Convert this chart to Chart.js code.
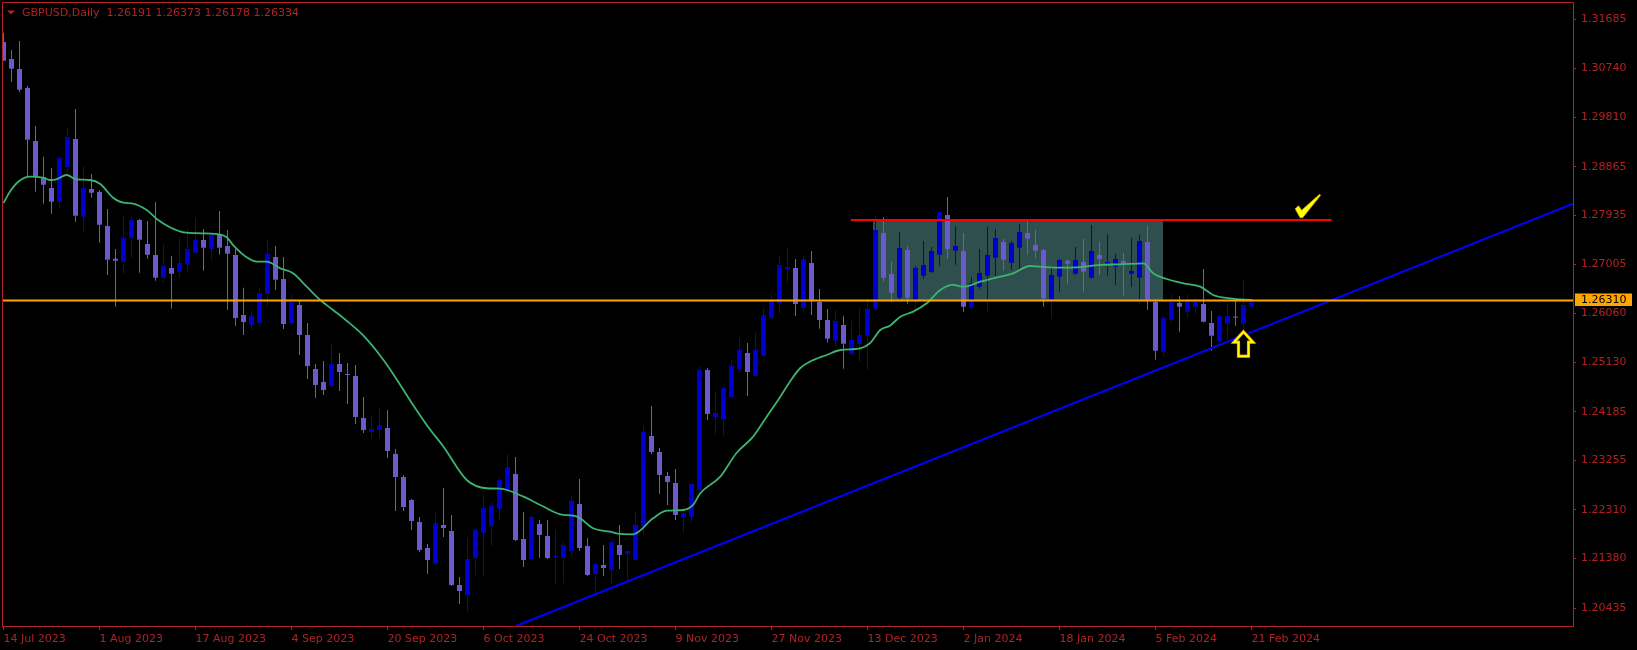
<!DOCTYPE html>
<html><head><meta charset="utf-8">
<script src="https://cdn.jsdelivr.net/npm/chart.js@4/dist/chart.umd.min.js"></script>
<style>html,body{margin:0;padding:0;background:#000;overflow:hidden}canvas{display:block}</style>
</head><body>
<canvas id="c" width="1637" height="650"></canvas>
<script>
// ---- data (bar index 0 = 14 Jul 2023, daily bars) ----
const opens = [1.31248,1.30923,1.30732,1.30369,1.29357,1.28669,1.28459,1.28198,1.28860,1.29395,
1.27911,1.28440,1.28383,1.27733,1.27109,1.27052,1.27510,1.27848,1.27390,1.27180,
1.26746,1.26931,1.26861,1.26994,1.27223,1.27466,1.27294,1.27581,1.27351,1.27180,
1.26034,1.25843,1.25886,1.26440,1.27141,1.26721,1.25881,1.26225,1.25652,1.25002,
1.24754,1.24677,1.25098,1.24907,1.24868,1.24066,1.23799,1.23837,1.23875,1.23379,
1.22939,1.22500,1.22080,1.21583,1.21278,1.22023,1.21908,1.20877,1.20686,1.21392,
1.21870,1.22003,1.22328,1.22691,1.22997,1.21755,1.21373,1.22042,1.21812,1.21411,
1.21392,1.21526,1.22424,1.21621,1.21087,1.21259,1.21163,1.21641,1.21469,1.21354,
1.22003,1.23722,1.23417,1.22958,1.22825,1.22175,1.22175,1.22691,1.24983,1.24085,
1.24047,1.24467,1.25002,1.25308,1.24868,1.25250,1.25976,1.26263,1.26912,1.26931,
1.26167,1.27027,1.26282,1.25938,1.25543,1.25843,1.25294,1.25485,1.25638,1.26154,
1.27600,1.26817,1.26364,1.27275,1.26288,1.26784,1.26855,1.27185,1.27944,1.27262,
1.27256,1.26173,1.26574,1.26784,1.27128,1.27428,1.27032,1.27319,1.27600,1.27370,
1.27275,1.26333,1.26765,1.27071,1.26822,1.27046,1.26746,1.27180,1.27013,1.26956,
1.27065,1.26822,1.26746,1.27428,1.26282,1.25333,1.25944,1.26263,1.26097,1.26192,
1.26244,1.25881,1.25537,1.25867,1.26001,1.25867,1.26191];
const highs = [1.31425,1.31095,1.31267,1.30413,1.29643,1.29057,1.28841,1.29057,1.29611,1.29968,
1.28879,1.28727,1.28421,1.28058,1.27294,1.27930,1.27905,1.27867,1.27829,1.28192,
1.27390,1.27160,1.27523,1.27676,1.27892,1.27676,1.27619,1.28020,1.27657,1.27294,
1.26555,1.26116,1.26555,1.27466,1.27351,1.27141,1.26435,1.26320,1.25881,1.25098,
1.25155,1.25499,1.25308,1.25117,1.25079,1.24467,1.24124,1.24257,1.24219,1.23474,
1.22978,1.22519,1.22175,1.21660,1.22252,1.22729,1.22214,1.21029,1.21774,1.21965,
1.22615,1.22462,1.22939,1.23379,1.23321,1.22271,1.22214,1.22118,1.22118,1.21927,
1.21717,1.22596,1.22901,1.21774,1.21297,1.21641,1.21717,1.22023,1.21530,1.22271,
1.23913,1.24295,1.23493,1.23035,1.23092,1.22385,1.22806,1.25059,1.25021,1.24563,
1.24658,1.25174,1.25594,1.25499,1.25709,1.26167,1.26454,1.27160,1.27332,1.27103,
1.27160,1.27256,1.26530,1.26148,1.26129,1.26020,1.25919,1.26167,1.26345,1.27944,
1.27905,1.27052,1.27625,1.27351,1.26969,1.27447,1.27332,1.28020,1.28287,1.27733,
1.27600,1.26765,1.27294,1.27714,1.27676,1.27485,1.27447,1.27772,1.27867,1.27657,
1.27294,1.26956,1.27097,1.27090,1.27332,1.27485,1.27753,1.27428,1.27581,1.27199,
1.27218,1.27504,1.27562,1.27733,1.26326,1.26020,1.26435,1.26396,1.26440,1.26364,
1.26912,1.26110,1.26039,1.26249,1.26307,1.26708,1.26373];
const lows = [1.30885,1.30490,1.30287,1.28675,1.28389,1.28159,1.27968,1.28083,1.28751,1.27816,
1.27625,1.28274,1.27414,1.26798,1.26192,1.26822,1.27128,1.26841,1.27109,1.26689,
1.26650,1.26154,1.26746,1.26861,1.27208,1.26880,1.27097,1.27185,1.26135,1.25823,
1.25652,1.25747,1.25823,1.26192,1.26517,1.25766,1.25843,1.25270,1.24811,1.24448,
1.24506,1.24658,1.24582,1.24334,1.23952,1.23780,1.23684,1.23684,1.23302,1.22290,
1.22290,1.21927,1.21507,1.21087,1.21259,1.21793,1.20857,1.20514,1.20361,1.21068,
1.21048,1.21621,1.22099,1.22653,1.21717,1.21220,1.21335,1.21392,1.21373,1.20896,
1.20915,1.21430,1.21526,1.21048,1.20724,1.21048,1.20896,1.21182,1.20972,1.21335,
1.21832,1.23379,1.22615,1.22405,1.22118,1.21870,1.22061,1.22672,1.24028,1.23742,
1.23722,1.24448,1.24926,1.24486,1.24849,1.25231,1.25938,1.26053,1.26645,1.26014,
1.26110,1.26034,1.25772,1.25504,1.25447,1.25008,1.25256,1.25142,1.24989,1.26116,
1.26670,1.26288,1.26307,1.26249,1.26116,1.26727,1.26836,1.26969,1.27103,1.26994,
1.26097,1.26135,1.26536,1.26097,1.26784,1.26880,1.26899,1.26906,1.27185,1.27122,
1.26192,1.25963,1.26479,1.26620,1.26807,1.26479,1.26731,1.26798,1.26784,1.26612,
1.26402,1.26574,1.26249,1.26135,1.25180,1.25256,1.25886,1.25714,1.25982,1.26058,
1.25890,1.25352,1.25493,1.25543,1.25829,1.25791,1.26178];
const closes = [1.30891,1.30738,1.30337,1.29382,1.28675,1.28522,1.28198,1.29032,1.29433,1.27930,
1.28459,1.28369,1.27758,1.27090,1.27071,1.27504,1.27848,1.27472,1.27185,1.26746,
1.26969,1.26822,1.27027,1.27294,1.27472,1.27319,1.27562,1.27319,1.27204,1.25976,
1.25900,1.26020,1.26448,1.27199,1.26708,1.25862,1.26282,1.25652,1.25059,1.24697,
1.24601,1.25098,1.24945,1.24888,1.24085,1.23837,1.23856,1.23933,1.23436,1.22939,
1.22366,1.22099,1.21545,1.21354,1.22061,1.21965,1.20877,1.20762,1.21373,1.21927,
1.22347,1.22385,1.22882,1.23130,1.21736,1.21354,1.22175,1.21832,1.21392,1.21430,
1.21641,1.22481,1.21583,1.21068,1.21278,1.21201,1.21698,1.21450,1.21526,1.22023,
1.23799,1.23417,1.22978,1.22844,1.22214,1.22252,1.22806,1.24983,1.24143,1.24162,
1.24639,1.25059,1.25365,1.24945,1.25365,1.26034,1.26301,1.26989,1.26950,1.26244,
1.27103,1.26301,1.25938,1.25581,1.25919,1.25485,1.25556,1.25652,1.26148,1.27657,
1.26746,1.26459,1.27313,1.26364,1.26931,1.26989,1.27256,1.28001,1.27294,1.27351,
1.26192,1.26645,1.26836,1.27180,1.27504,1.27090,1.27409,1.27619,1.27491,1.27262,
1.26352,1.26798,1.27084,1.27013,1.27084,1.26861,1.27256,1.27103,1.27046,1.27103,
1.26994,1.26874,1.27447,1.26326,1.25352,1.25976,1.26282,1.26192,1.26320,1.26282,
1.25906,1.25638,1.26014,1.26014,1.25982,1.26225,1.26334];

// moving average line, read at points along the curve (x = bar index)
const maIndex = [0,0.8,1.85,3.3,4.9,5.8,6.6,7.9,9.1,10.8,12.1,13.7,15,16,17.9,19.2,20.8,22.5,24.6,26.6,
27.9,28.7,30.4,31.7,32.9,34.6,36.2,37.9,39.6,41.2,42.7,44.9,47.5,49.6,51.2,53.2,55,57.9,60.4,62.1,
65,67.1,69.6,71.7,73.7,75.8,77.1,78.7,81.2,82.9,85,86.2,87.1,89.6,91.6,93.7,95.4,97.1,98.3,99.6,
100.8,102.9,104.6,107.1,108.3,109.6,110.8,112.1,113.7,115.4,117.1,118.7,120,122.1,123.7,126.2,128.3,129.6,132.1,134.2,
137.1,139.6,142.5,143.7,145.4,147.5,149.6,151.2,153.3,156];
const maValues = [1.28173,1.28389,1.28580,1.28675,1.28656,1.28612,1.28625,1.28708,1.28625,1.28612,1.28536,1.28274,1.28178,1.28167,1.28039,1.27861,1.27709,1.27613,1.27594,1.27581,
1.27518,1.27370,1.27136,1.27052,1.27052,1.26925,1.26830,1.26574,1.26320,1.26129,1.25948,1.25652,1.25174,1.24697,1.24315,1.23870,1.23518,1.22882,1.22724,1.22716,
1.22563,1.22405,1.22227,1.22181,1.21960,1.21895,1.21851,1.21845,1.22151,1.22296,1.22309,1.22405,1.22628,1.22945,1.23392,1.23709,1.24091,1.24473,1.24760,1.25021,
1.25142,1.25270,1.25365,1.25398,1.25493,1.25747,1.25829,1.26001,1.26097,1.26257,1.26511,1.26607,1.26574,1.26670,1.26735,1.26830,1.26969,1.26956,1.26937,1.26945,
1.26989,1.27002,1.27021,1.26830,1.26721,1.26639,1.26574,1.26416,1.26352,1.26320];

// axis tick labels
const dateTickIndex = [0,12,24,36,48,60,72,84,96,108,120,132,144,156];
const dateTickLabels = ['14 Jul 2023','1 Aug 2023','17 Aug 2023','4 Sep 2023','20 Sep 2023','6 Oct 2023','24 Oct 2023',
  '9 Nov 2023','27 Nov 2023','13 Dec 2023','2 Jan 2024','18 Jan 2024','5 Feb 2024','21 Feb 2024'];
const priceTicks = [1.31685,1.30740,1.29810,1.28865,1.27935,1.27005,1.26060,1.25130,1.24185,1.23255,1.22310,1.21380,1.20435];

// drawn objects (data units: bar index, price)
const currentLevel = 1.26310;
const resistance = {x0:105.9, x1:166.0, price:1.27848};
const zone = {x0:108.69, x1:144.9, top:1.27848, bottom:1.26310};
const trendX = [64.06, 196.19];
const trendY = [1.20093, 1.28161];
const arrowAt = {x:155, price:1.25714};
const checkAt = {x:162.2, price:1.27900};
const symbolTitle = 'GBPUSD,Daily';

const X_MIN = -0.1875, X_MAX = 196.1875, Y_MIN = 1.20093, Y_MAX = 1.32012;
const RED = '#B22222', BULL = '#0000CD', BEAR = '#6A5ACD';
const FONT = '"DejaVu Sans", Verdana, sans-serif';

const idx = opens.map((_, i) => i);
const isBull = i => closes[i] >= opens[i];
const candleColor = ctx => isBull(ctx.dataIndex) ? BULL : BEAR;

const overlay = {
  id: 'overlay',
  beforeDatasetsDraw(chart) {
    const {ctx, chartArea:a, scales:{x, y}} = chart;
    ctx.save();
    ctx.beginPath(); ctx.rect(a.left, a.top, a.right - a.left, a.bottom - a.top); ctx.clip();
    const l = Math.round(x.getPixelForValue(zone.x0)), r = Math.round(x.getPixelForValue(zone.x1));
    const t = Math.round(y.getPixelForValue(zone.top)), b = Math.round(y.getPixelForValue(zone.bottom));
    ctx.fillStyle = '#2F4F4F';
    ctx.fillRect(l, t, r - l, b - t);
    ctx.restore();
  },
  afterDraw(chart) {
    const {ctx, chartArea:a, scales:{x, y}} = chart;
    ctx.save();
    // frame
    ctx.strokeStyle = RED; ctx.lineWidth = 1;
    ctx.strokeRect(a.left + 0.5, a.top + 0.5, a.right - a.left, a.bottom - a.top);
    // title
    const n = opens.length - 1;
    const t = symbolTitle + '  ' + [opens[n], highs[n], lows[n], closes[n]].map(v => v.toFixed(5)).join(' ');
    ctx.fillStyle = RED; ctx.font = '11px ' + FONT; ctx.textBaseline = 'middle'; ctx.textAlign = 'left';
    ctx.fillText(t, 22, 13);
    ctx.beginPath(); ctx.moveTo(7, 10.5); ctx.lineTo(15, 10.5); ctx.lineTo(11, 14.5); ctx.closePath(); ctx.fill();
    // arrow
    const ax = x.getPixelForValue(arrowAt.x), ay = y.getPixelForValue(arrowAt.price);
    ctx.beginPath();
    const pts = [[0,0],[9.5,10.5],[5,10.5],[5,24.5],[-5,24.5],[-5,10.5],[-9.5,10.5]];
    pts.forEach((p, k) => k ? ctx.lineTo(ax + p[0], ay + p[1]) : ctx.moveTo(ax + p[0], ay + p[1]));
    ctx.closePath();
    ctx.fillStyle = '#000'; ctx.fill();
    ctx.lineJoin = 'miter';
    ctx.strokeStyle = '#E08000'; ctx.lineWidth = 3.2; ctx.stroke();
    ctx.strokeStyle = '#FFFF00'; ctx.lineWidth = 2; ctx.stroke();
    // check mark
    const cx = x.getPixelForValue(checkAt.x), cy = y.getPixelForValue(checkAt.price);
    const cp = [[-6,-8.5],[-2.5,-11.5],[0.5,-7],[18.5,-23],[19.5,-22],[1.5,0.5],[-1,0.5]];
    ctx.beginPath();
    cp.forEach((p, k) => k ? ctx.lineTo(cx + p[0], cy + p[1]) : ctx.moveTo(cx + p[0], cy + p[1]));
    ctx.closePath();
    ctx.fillStyle = '#FFFF00'; ctx.fill();
    ctx.strokeStyle = '#D0A000'; ctx.lineWidth = 0.8; ctx.stroke();
    // current level price box
    const py = Math.round(y.getPixelForValue(currentLevel));
    ctx.fillStyle = '#FFA500';
    ctx.fillRect(a.right + 2, py - 8, 57, 13);
    ctx.fillStyle = '#C0302A';
    ctx.fillRect(a.right + 2, py - 8, 57, 1);
    ctx.fillStyle = '#000'; ctx.font = '11px ' + FONT; ctx.textBaseline = 'middle';
    ctx.fillText(currentLevel.toFixed(5), a.right + 8, py - 1);
    ctx.restore();
  }
};

const zeroPad = s => { s.paddingLeft = 0; s.paddingRight = 0; s.paddingTop = 0; s.paddingBottom = 0; };

new Chart(document.getElementById('c'), {
  type: 'bar',
  data: {
    datasets: [
      { type:'bar', data: idx.map(i => ({x:i, y:[lows[i], highs[i]]})), backgroundColor: candleColor,
        barThickness:1, grouped:false, order:6, borderWidth:0, inflateAmount:0 },
      { type:'bar', data: idx.map(i => ({x:i, y:[opens[i], closes[i]]})), backgroundColor: candleColor,
        barThickness:5, minBarLength:1, grouped:false, order:5, borderWidth:0, inflateAmount:0 },
      { type:'line', data: maIndex.map((v, k) => ({x:v, y:maValues[k]})), borderColor:'#3CB371', borderWidth:1.8,
        pointRadius:0, cubicInterpolationMode:'monotone', order:4 },
      { type:'line', data: trendX.map((v, k) => ({x:v, y:trendY[k]})), borderColor:'#0000FF', borderWidth:2,
        pointRadius:0, order:3 },
      { type:'line', data: [{x:resistance.x0, y:resistance.price}, {x:resistance.x1, y:resistance.price}],
        borderColor:'#FF0000', borderWidth:2, pointRadius:0, order:2 },
      { type:'line', data: [{x:X_MIN, y:currentLevel}, {x:X_MAX, y:currentLevel}],
        borderColor:'#FFA500', borderWidth:2, pointRadius:0, order:1 }
    ]
  },
  options: {
    responsive:false, animation:false, devicePixelRatio:1,
    layout:{ padding:{left:2, top:2, right:0, bottom:0} },
    plugins:{ legend:{display:false}, tooltip:{enabled:false} },
    events: [],
    scales: {
      x: {
        type:'linear', min:X_MIN, max:X_MAX, offset:false,
        grid:{ display:true, drawOnChartArea:false, drawTicks:true, tickLength:4, color:RED, offset:false },
        border:{ display:false },
        afterBuildTicks: s => { s.ticks = dateTickIndex.map(v => ({value:v})); },
        afterFit: s => { s.height = 24; zeroPad(s); },
        ticks:{ autoSkip:false, maxRotation:0, minRotation:0, align:'start', padding:3, color:RED,
          font:{family:FONT, size:11},
          callback: v => dateTickLabels[dateTickIndex.indexOf(v)] }
      },
      y: {
        type:'linear', position:'right', min:Y_MIN, max:Y_MAX,
        grid:{ display:true, drawOnChartArea:false, drawTicks:true, tickLength:3, color:RED },
        border:{ display:false },
        afterBuildTicks: s => { s.ticks = priceTicks.map(v => ({value:v})); },
        afterFit: s => { s.width = 64; zeroPad(s); },
        ticks:{ padding:5, color:RED, font:{family:FONT, size:11}, callback: v => v.toFixed(5) }
      }
    }
  },
  plugins:[overlay]
});
</script>
</body></html>
